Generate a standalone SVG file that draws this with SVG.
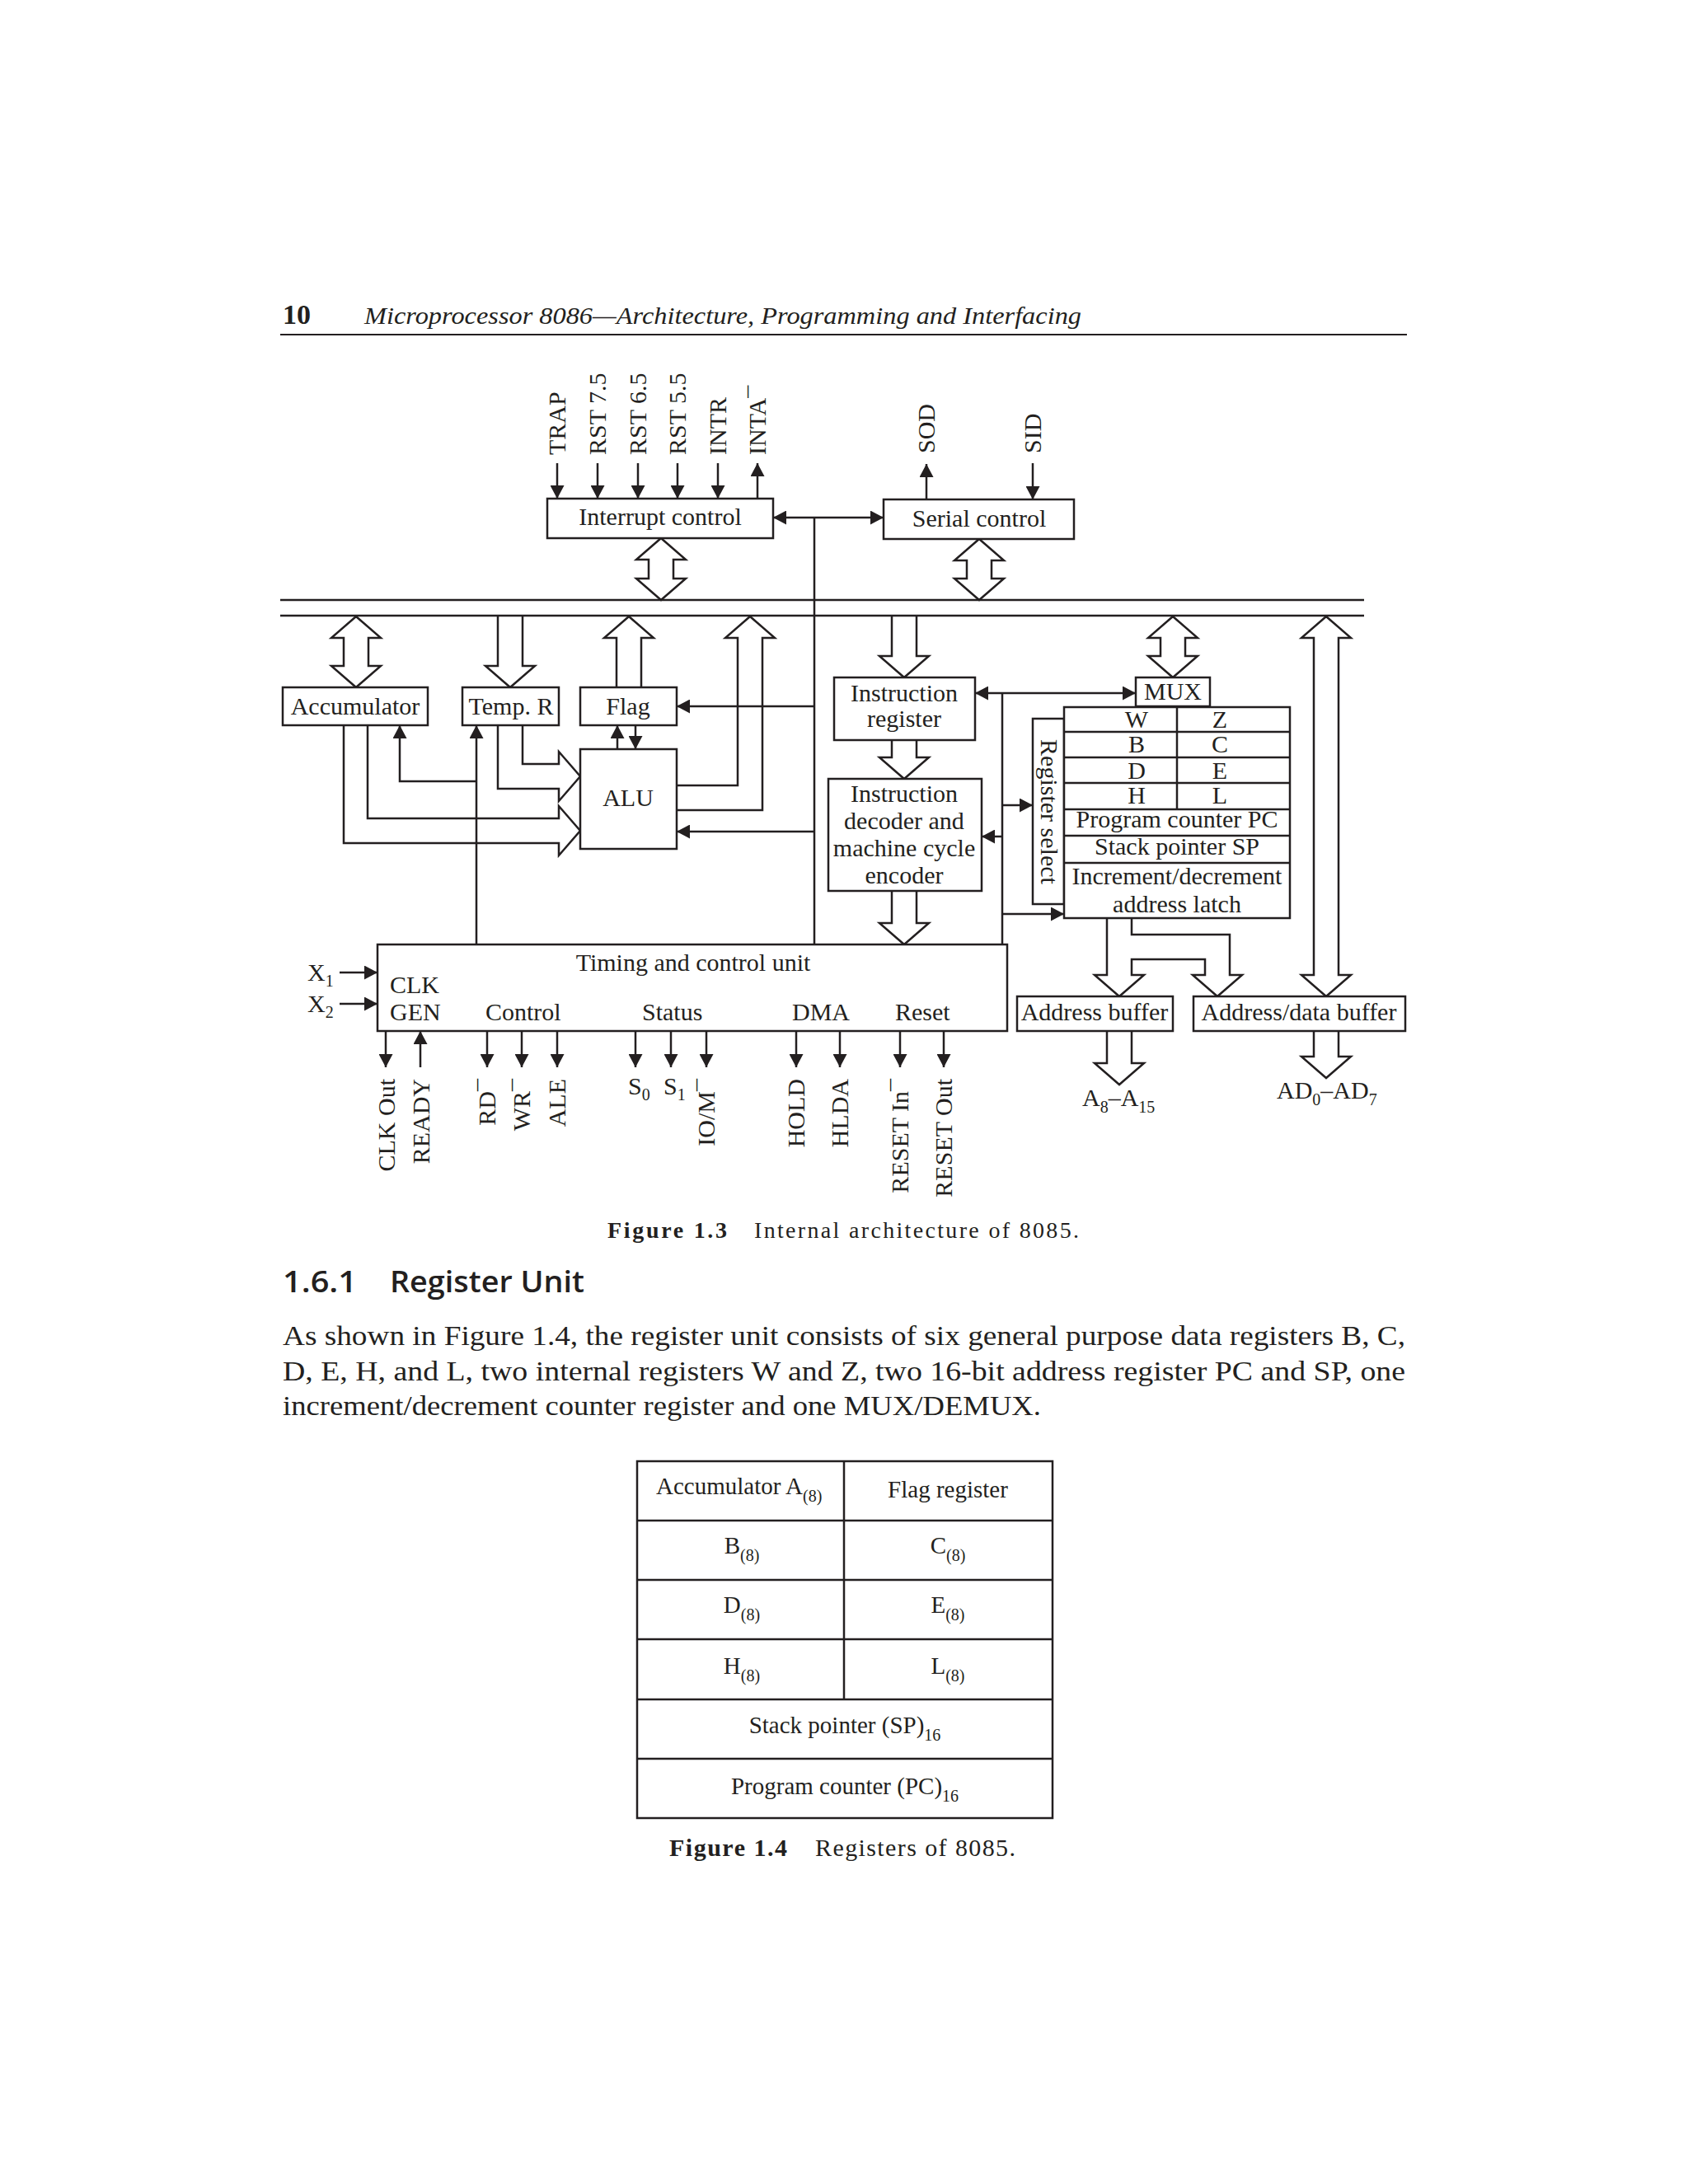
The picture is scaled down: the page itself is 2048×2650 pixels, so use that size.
<svg xmlns="http://www.w3.org/2000/svg" width="2048" height="2650" viewBox="0 0 2048 2650">
<style>
.ln{stroke:#231f20;stroke-width:2.5;fill:none}
.ha{stroke:#231f20;stroke-width:2.5;fill:none;stroke-linejoin:miter}
.bx{stroke:#231f20;stroke-width:2.5;fill:#fff}
.t{font-family:"Liberation Serif","Times New Roman",serif;font-size:30px;fill:#231f20}
.m{text-anchor:middle}
.e{text-anchor:end}
.sub{font-size:20px}
.f28{font-size:28px}
.f29{font-size:29px}
.f33{font-size:33px}
.f34{font-size:34px}
.hd{font-family:"Open Sans","Noto Sans",sans-serif;font-weight:600;font-size:36px;fill:#231f20}
</style>
<defs>
<marker id="ah" markerWidth="16" markerHeight="17" refX="16" refY="8.5" orient="auto-start-reverse" markerUnits="userSpaceOnUse">
<path d="M0,0 L16,8.5 L0,17 z" fill="#231f20"/>
</marker>
</defs>
<rect width="2048" height="2650" fill="#fff"/>

<g id="page-header">
<text class="t f34" x="343" y="393" font-weight="bold">10</text>
<text class="t" x="442" y="393" font-style="italic" textLength="870" lengthAdjust="spacingAndGlyphs">Microprocessor 8086—Architecture, Programming and Interfacing</text>
<line x1="340" y1="406" x2="1707" y2="406" stroke="#231f20" stroke-width="2"/>
</g>

<g id="connectors">
<!-- internal bus -->
<line class="ln" x1="340" y1="728" x2="1655" y2="728"/>
<line class="ln" x1="340" y1="747" x2="1655" y2="747"/>
<!-- interrupt inputs -->
<line class="ln" x1="676" y1="562" x2="676" y2="605" marker-end="url(#ah)"/>
<line class="ln" x1="725" y1="562" x2="725" y2="605" marker-end="url(#ah)"/>
<line class="ln" x1="774" y1="562" x2="774" y2="605" marker-end="url(#ah)"/>
<line class="ln" x1="822" y1="562" x2="822" y2="605" marker-end="url(#ah)"/>
<line class="ln" x1="871" y1="562" x2="871" y2="605" marker-end="url(#ah)"/>
<line class="ln" x1="919" y1="605" x2="919" y2="562" marker-end="url(#ah)"/>
<!-- serial -->
<line class="ln" x1="1124" y1="606" x2="1124" y2="563" marker-end="url(#ah)"/>
<line class="ln" x1="1253" y1="562" x2="1253" y2="606" marker-end="url(#ah)"/>
<line class="ln" x1="938" y1="628" x2="1072" y2="628" marker-start="url(#ah)" marker-end="url(#ah)"/>
<line class="ln" x1="988" y1="628" x2="988" y2="1146"/>
<line class="ln" x1="988" y1="857" x2="821" y2="857" marker-end="url(#ah)"/>
<line class="ln" x1="988" y1="1009" x2="821" y2="1009" marker-end="url(#ah)"/>
<!-- ALU / flag -->
<line class="ln" x1="749" y1="909" x2="749" y2="880" marker-end="url(#ah)"/>
<line class="ln" x1="771" y1="880" x2="771" y2="909" marker-end="url(#ah)"/>
<line class="ln" x1="578" y1="1146" x2="578" y2="880" marker-end="url(#ah)"/>
<polyline class="ln" points="578,948 485,948 485,880" marker-end="url(#ah)"/>
<!-- IR / MUX / register select -->
<line class="ln" x1="1183" y1="841" x2="1378" y2="841" marker-start="url(#ah)" marker-end="url(#ah)"/>
<line class="ln" x1="1216" y1="841" x2="1216" y2="1146"/>
<line class="ln" x1="1216" y1="977" x2="1253" y2="977" marker-end="url(#ah)"/>
<line class="ln" x1="1216" y1="1015" x2="1191" y2="1015" marker-end="url(#ah)"/>
<line class="ln" x1="1216" y1="1109" x2="1291" y2="1109" marker-end="url(#ah)"/>
<!-- clock inputs -->
<line class="ln" x1="412" y1="1180" x2="458" y2="1180" marker-end="url(#ah)"/>
<line class="ln" x1="412" y1="1218" x2="458" y2="1218" marker-end="url(#ah)"/>
<!-- bottom signals -->
<line class="ln" x1="468" y1="1251" x2="468" y2="1295" marker-end="url(#ah)"/>
<line class="ln" x1="510" y1="1295" x2="510" y2="1251" marker-end="url(#ah)"/>
<line class="ln" x1="591" y1="1251" x2="591" y2="1295" marker-end="url(#ah)"/>
<line class="ln" x1="633" y1="1251" x2="633" y2="1295" marker-end="url(#ah)"/>
<line class="ln" x1="676" y1="1251" x2="676" y2="1295" marker-end="url(#ah)"/>
<line class="ln" x1="771" y1="1251" x2="771" y2="1295" marker-end="url(#ah)"/>
<line class="ln" x1="814" y1="1251" x2="814" y2="1295" marker-end="url(#ah)"/>
<line class="ln" x1="857" y1="1251" x2="857" y2="1295" marker-end="url(#ah)"/>
<line class="ln" x1="966" y1="1251" x2="966" y2="1295" marker-end="url(#ah)"/>
<line class="ln" x1="1019" y1="1251" x2="1019" y2="1295" marker-end="url(#ah)"/>
<line class="ln" x1="1092" y1="1251" x2="1092" y2="1295" marker-end="url(#ah)"/>
<line class="ln" x1="1145" y1="1251" x2="1145" y2="1295" marker-end="url(#ah)"/>
<!-- hollow bus arrows -->
<path class="ha" d="M802,653 L832,679 L817,679 L817,702 L832,702 L802,728 L772,702 L787,702 L787,679 L772,679 Z"/>
<path class="ha" d="M1188,654 L1218,680 L1203,680 L1203,702 L1218,702 L1188,728 L1158,702 L1173,702 L1173,680 L1158,680 Z"/>
<path class="ha" d="M432,748 L462,774 L447,774 L447,808 L462,808 L432,834 L402,808 L417,808 L417,774 L402,774 Z"/>
<path class="ha" d="M1423,748 L1453,774 L1438,774 L1438,796 L1453,796 L1423,822 L1393,796 L1408,796 L1408,774 L1393,774 Z"/>
<path class="ha" d="M1609,748 L1639,774 L1624,774 L1624,1183 L1639,1183 L1609,1209 L1579,1183 L1594,1183 L1594,774 L1579,774 Z"/>
<path class="ha" d="M604,747 L604,808 L589,808 L619,834 L649,808 L634,808 L634,747"/>
<path class="ha" d="M1082,747 L1082,796 L1067,796 L1097,822 L1127,796 L1112,796 L1112,747"/>
<path class="ha" d="M1082,898 L1082,919 L1067,919 L1097,945 L1127,919 L1112,919 L1112,898"/>
<path class="ha" d="M1082,1081 L1082,1120 L1067,1120 L1097,1146 L1127,1120 L1112,1120 L1112,1081"/>
<path class="ha" d="M1343,1251 L1343,1290 L1328,1290 L1358,1316 L1388,1290 L1373,1290 L1373,1251"/>
<path class="ha" d="M1594,1251 L1594,1282 L1579,1282 L1609,1308 L1639,1282 L1624,1282 L1624,1251"/>
<path class="ha" d="M748,834 L748,774 L733,774 L763,748 L793,774 L778,774 L778,834"/>
<path class="ha" d="M821,953 L895,953 L895,774 L880,774 L910,748 L940,774 L925,774 L925,983 L821,983"/>
<path class="ha" d="M634,880 L634,927 L678,927 L678,912 L704,942 L678,972 L678,957 L604,957 L604,880"/>
<path class="ha" d="M446,880 L446,993 L678,993 L678,978 L704,1008 L678,1038 L678,1023 L417,1023 L417,880"/>
<path class="ha" d="M1343,1114 L1343,1183 L1328,1183 L1358,1209 L1388,1183 L1373,1183 L1373,1164 L1462,1164 L1462,1183 L1447,1183 L1477,1209 L1507,1183 L1492,1183 L1492,1134 L1373,1134 L1373,1114"/>
</g>

<g id="interrupt-control">
<rect class="bx" x="664" y="605" width="274" height="48"/>
<text class="t m" x="801" y="637">Interrupt control</text>
<text class="t" transform="translate(686,552) rotate(-90)">TRAP</text>
<text class="t" transform="translate(735,552) rotate(-90)">RST 7.5</text>
<text class="t" transform="translate(784,552) rotate(-90)">RST 6.5</text>
<text class="t" transform="translate(832,552) rotate(-90)">RST 5.5</text>
<text class="t" transform="translate(881,552) rotate(-90)">INTR</text>
<text class="t" transform="translate(929,552) rotate(-90)">INTA¯</text>
</g>

<g id="serial-control">
<rect class="bx" x="1072" y="606" width="231" height="48"/>
<text class="t m" x="1188" y="639">Serial control</text>
<text class="t" transform="translate(1134,550) rotate(-90)">SOD</text>
<text class="t" transform="translate(1263,550) rotate(-90)">SID</text>
</g>

<g id="accumulator">
<rect class="bx" x="343" y="834" width="176" height="46"/>
<text class="t m" x="431" y="867">Accumulator</text>
</g>
<g id="temp-r">
<rect class="bx" x="561" y="834" width="117" height="46"/>
<text class="t m" x="620" y="867">Temp. R</text>
</g>
<g id="flag">
<rect class="bx" x="704" y="834" width="117" height="46"/>
<text class="t m" x="762" y="867">Flag</text>
</g>
<g id="alu">
<rect class="bx" x="704" y="909" width="117" height="121"/>
<text class="t m" x="762" y="978">ALU</text>
</g>

<g id="instruction-register">
<rect class="bx" x="1012" y="822" width="171" height="76"/>
<text class="t m" x="1097" y="851">Instruction</text>
<text class="t m" x="1097" y="882">register</text>
</g>
<g id="instruction-decoder">
<rect class="bx" x="1005" y="945" width="186" height="136"/>
<text class="t m" x="1097" y="973">Instruction</text>
<text class="t m" x="1097" y="1006">decoder and</text>
<text class="t m" x="1097" y="1039">machine cycle</text>
<text class="t m" x="1097" y="1072">encoder</text>
</g>

<g id="mux">
<rect class="bx" x="1378" y="822" width="90" height="35"/>
<text class="t m" x="1423" y="849">MUX</text>
</g>
<g id="register-select">
<rect class="bx" x="1253" y="872" width="38" height="225"/>
<text class="t m" transform="translate(1263,985) rotate(90)">Register select</text>
</g>
<g id="register-array">
<rect class="bx" x="1291" y="858" width="274" height="256"/>
<line class="ln" x1="1291" y1="888" x2="1565" y2="888"/>
<line class="ln" x1="1291" y1="919" x2="1565" y2="919"/>
<line class="ln" x1="1291" y1="950" x2="1565" y2="950"/>
<line class="ln" x1="1291" y1="982" x2="1565" y2="982"/>
<line class="ln" x1="1291" y1="1014" x2="1565" y2="1014"/>
<line class="ln" x1="1291" y1="1047" x2="1565" y2="1047"/>
<line class="ln" x1="1428" y1="858" x2="1428" y2="982"/>
<text class="t m" x="1379" y="883">W</text>
<text class="t m" x="1480" y="883">Z</text>
<text class="t m" x="1379" y="913">B</text>
<text class="t m" x="1480" y="913">C</text>
<text class="t m" x="1379" y="945">D</text>
<text class="t m" x="1480" y="945">E</text>
<text class="t m" x="1379" y="975">H</text>
<text class="t m" x="1480" y="975">L</text>
<text class="t m" x="1428" y="1004">Program counter PC</text>
<text class="t m" x="1428" y="1037">Stack pointer SP</text>
<text class="t m" x="1428" y="1073">Increment/decrement</text>
<text class="t m" x="1428" y="1107">address latch</text>
</g>

<g id="timing-control">
<rect class="bx" x="458" y="1146" width="764" height="105"/>
<text class="t m" x="841" y="1178">Timing and control unit</text>
<text class="t" x="473" y="1205">CLK</text>
<text class="t" x="473" y="1238">GEN</text>
<text class="t" x="589" y="1238">Control</text>
<text class="t" x="779" y="1238">Status</text>
<text class="t" x="961" y="1238">DMA</text>
<text class="t" x="1086" y="1238">Reset</text>
<text class="t" x="373" y="1190">X<tspan class="sub" dy="7">1</tspan></text>
<text class="t" x="373" y="1228">X<tspan class="sub" dy="7">2</tspan></text>
<text class="t e" transform="translate(479,1309) rotate(-90)">CLK Out</text>
<text class="t e" transform="translate(521,1309) rotate(-90)">READY</text>
<text class="t e" transform="translate(601,1309) rotate(-90)">RD¯</text>
<text class="t e" transform="translate(643,1309) rotate(-90)">WR¯</text>
<text class="t e" transform="translate(686,1309) rotate(-90)">ALE</text>
<text class="t" x="762" y="1328">S<tspan class="sub" dy="7">0</tspan></text>
<text class="t" x="805" y="1328">S<tspan class="sub" dy="7">1</tspan></text>
<text class="t e" transform="translate(867,1309) rotate(-90)">IO/M¯</text>
<text class="t e" transform="translate(976,1309) rotate(-90)">HOLD</text>
<text class="t e" transform="translate(1029,1309) rotate(-90)">HLDA</text>
<text class="t e" transform="translate(1102,1309) rotate(-90)">RESET In¯</text>
<text class="t e" transform="translate(1155,1309) rotate(-90)">RESET Out</text>
</g>

<g id="address-buffer">
<rect class="bx" x="1234" y="1209" width="189" height="42"/>
<text class="t m" x="1328" y="1238">Address buffer</text>
<text class="t" x="1313" y="1342">A<tspan class="sub" dy="8">8</tspan><tspan dy="-8">–A</tspan><tspan class="sub" dy="8">15</tspan></text>
</g>
<g id="address-data-buffer">
<rect class="bx" x="1448" y="1209" width="257" height="42"/>
<text class="t m" x="1576" y="1238">Address/data buffer</text>
<text class="t" x="1549" y="1333">AD<tspan class="sub" dy="8">0</tspan><tspan dy="-8">–AD</tspan><tspan class="sub" dy="8">7</tspan></text>
</g>

<g id="caption-1-3">
<text class="t f28" x="737" y="1502" font-weight="bold" textLength="145">Figure 1.3</text>
<text class="t f28" x="915" y="1502" textLength="394">Internal architecture of 8085.</text>
</g>

<g id="section-text">
<text class="hd" x="343" y="1568" textLength="90" lengthAdjust="spacingAndGlyphs">1.6.1</text>
<text class="hd" x="473" y="1568" textLength="236" lengthAdjust="spacingAndGlyphs">Register Unit</text>
<text class="t f33" x="343" y="1632" textLength="1362" lengthAdjust="spacingAndGlyphs">As shown in Figure 1.4, the register unit consists of six general purpose data registers B, C,</text>
<text class="t f33" x="343" y="1675" textLength="1362" lengthAdjust="spacingAndGlyphs">D, E, H, and L, two internal registers W and Z, two 16-bit address register PC and SP, one</text>
<text class="t f33" x="343" y="1717" textLength="920" lengthAdjust="spacingAndGlyphs">increment/decrement counter register and one MUX/DEMUX.</text>
</g>

<g id="register-table">
<rect class="bx" x="773" y="1773" width="504" height="433"/>
<line class="ln" x1="773" y1="1845" x2="1277" y2="1845"/>
<line class="ln" x1="773" y1="1917" x2="1277" y2="1917"/>
<line class="ln" x1="773" y1="1989" x2="1277" y2="1989"/>
<line class="ln" x1="773" y1="2062" x2="1277" y2="2062"/>
<line class="ln" x1="773" y1="2134" x2="1277" y2="2134"/>
<line class="ln" x1="1024" y1="1773" x2="1024" y2="2062"/>
<text class="t f29" x="796" y="1813">Accumulator A<tspan class="sub" dy="9">(8)</tspan></text>
<text class="t f29 m" x="1150" y="1817">Flag register</text>
<text class="t f29 m" x="900" y="1885">B<tspan class="sub" dy="9">(8)</tspan></text>
<text class="t f29 m" x="1150" y="1885">C<tspan class="sub" dy="9">(8)</tspan></text>
<text class="t f29 m" x="900" y="1957">D<tspan class="sub" dy="9">(8)</tspan></text>
<text class="t f29 m" x="1150" y="1957">E<tspan class="sub" dy="9">(8)</tspan></text>
<text class="t f29 m" x="900" y="2031">H<tspan class="sub" dy="9">(8)</tspan></text>
<text class="t f29 m" x="1150" y="2031">L<tspan class="sub" dy="9">(8)</tspan></text>
<text class="t f29 m" x="1025" y="2103">Stack pointer (SP)<tspan class="sub" dy="9">16</tspan></text>
<text class="t f29 m" x="1025" y="2177">Program counter (PC)<tspan class="sub" dy="9">16</tspan></text>
</g>

<g id="caption-1-4">
<text class="t" x="812" y="2252" font-weight="bold" textLength="143">Figure 1.4</text>
<text class="t" x="989" y="2252" textLength="243">Registers of 8085.</text>
</g>
</svg>
